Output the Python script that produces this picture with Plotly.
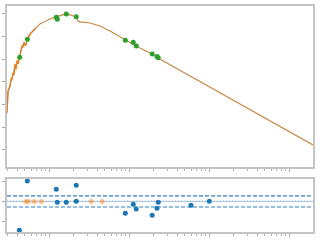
import plotly.graph_objects as go
from plotly.subplots import make_subplots

# model curve (smooth)
curve_x = [0.2985, 0.3072, 0.3255, 0.335, 0.3447, 0.3548, 0.3651, 0.3758, 0.3868, 0.398,
           0.4097, 0.4305, 0.4467, 0.4597, 0.4732, 0.487, 0.501, 0.516, 0.531, 0.562,
           0.596, 0.631, 0.688, 0.772, 0.866, 1.029, 1.223, 1.372, 1.631, 1.830,
           2.175, 2.304, 2.44, 3.255, 4.34, 5.79, 8.91, 12.24, 18.3, 23.05, 1995.0]
curve_y = [1.68, 2.56, 2.87, 3.09, 3.18, 3.35, 3.53, 3.66, 3.71, 3.84,
           3.97, 4.10, 4.41, 4.54, 4.63, 4.72, 4.68, 4.63, 4.85, 5.03,
           5.16, 5.25, 5.38, 5.56, 5.65, 5.78, 5.87, 5.91, 6.0, 5.96,
           5.87, 5.69, 5.65, 5.60, 5.47, 5.25, 4.85, 4.59, 4.28, 4.06, 0.22]

# noisier trace underneath
raw_x = [0.2985, 0.3072, 0.3255, 0.335, 0.3447, 0.3548, 0.3651, 0.3758, 0.3868, 0.398,
         0.4097, 0.4305, 0.4467, 0.4597, 0.4732, 0.487, 0.501, 0.516, 0.531, 0.562,
         0.596, 0.631, 0.688]
raw_y = [1.62, 2.58, 2.80, 3.15, 3.10, 3.40, 3.30, 3.80, 3.55, 3.95,
         3.80, 4.12, 4.38, 4.58, 4.55, 4.75, 4.60, 4.66, 4.82, 5.04,
         5.16, 5.25, 5.38]

# measured points (top)
pts_x = [0.4305, 0.537, 1.234, 1.27, 1.644, 2.19, 9.0, 11.3, 12.3, 19.5, 22.4, 23.2]
pts_y = [4.09, 4.88, 5.85, 5.77, 6.0, 5.88, 4.84, 4.75, 4.59, 4.23, 4.12, 4.07]

# residuals (bottom)
res_x = [0.4256, 0.536, 1.233, 1.27, 1.644, 2.19, 2.19, 9.0, 11.3, 12.3, 19.5, 22.4, 23.2, 59.6, 100.9]
res_y = [-1.46, 1.04, 0.62, -0.04, -0.04, 0.82, 0.01, -0.60, -0.14, -0.38, -0.70, -0.35, -0.04, -0.19, 0.01]
flag_x = [0.512, 0.551, 0.655, 0.801, 3.38, 4.63]
flag_y = [0, 0, 0, 0, 0, 0]
band = 0.28

fig = make_subplots(rows=2, cols=1)
fig.add_trace(go.Scatter(x=raw_x, y=raw_y, mode="lines", line=dict(color="#ff7f0e", width=1.4)), 1, 1)
fig.add_trace(go.Scatter(x=curve_x, y=curve_y, mode="lines", line=dict(color="#c8843f", width=1.1)), 1, 1)
fig.add_trace(go.Scatter(x=pts_x, y=pts_y, mode="markers", marker=dict(color="#2ca02c", size=5)), 1, 1)

fig.add_trace(go.Scatter(x=flag_x, y=flag_y, mode="markers", marker=dict(color="#ff7f0e", size=5, opacity=0.5)), 2, 1)
fig.add_trace(go.Scatter(x=res_x, y=res_y, mode="markers", marker=dict(color="#1f77b4", size=5)), 2, 1)

for yv, dash, col in [(band, "4px,2px", "#2f80c0"), (-band, "4px,2px", "#2f80c0"), (0, "1px,2px", "#3a7fbf")]:
    fig.add_shape(type="line", xref="x2 domain", yref="y2", x0=0, x1=1, y0=yv, y1=yv,
                  line=dict(color=col, width=1.2, dash=dash), layer="below")
fig.add_shape(type="line", xref="x2 domain", yref="y2", x0=0, x1=1, y0=0, y1=0,
              line=dict(color="#aac8e4", width=1), layer="below")

axis_common = dict(showline=True, mirror=True, linecolor="#c4c4c4", linewidth=2,
                   ticks="outside", ticklen=3, tickcolor="#a8a8a8", tickwidth=1,
                   showticklabels=False, showgrid=False, zeroline=False)
xr = [-0.525, 3.3]
fig.update_xaxes(type="log", range=xr, dtick=1, domain=[7/320, 313/320],
                 minor=dict(ticks="outside", ticklen=2, tickcolor="#b0b0b0", dtick="D1", showgrid=False),
                 **axis_common)
fig.update_yaxes(**axis_common, dtick=1, tick0=0)
fig.update_yaxes(range=[-0.75, 6.35], domain=[1 - 167/240, 1 - 6/240], row=1, col=1)
fig.update_yaxes(range=[-1.55, 1.14], domain=[1 - 232/240, 1 - 179/240], row=2, col=1)

fig.update_layout(width=320, height=240, margin=dict(l=0, r=0, t=0, b=0),
                  paper_bgcolor="white", plot_bgcolor="white", showlegend=False)
fig.write_html("out.html")
